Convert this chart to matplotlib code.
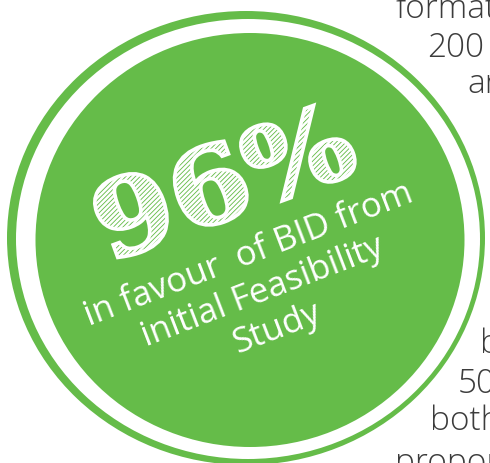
import matplotlib
matplotlib.use("Agg")
import matplotlib.pyplot as plt
from matplotlib.patches import Ellipse, PathPatch
from matplotlib.textpath import TextPath
from matplotlib.font_manager import FontProperties
from matplotlib.transforms import Affine2D

# content
big_value = "96%"
caption = "in favour  of BID from\ninitial Feasibility\nStudy"
side_words = ["format", "200", "ar", "b", "50", "both", "propor"]
side_x = [395, 427, 467, 480, 458, 430, 395]
side_y = [18, 57, 93, 353, 393, 430, 472]

green = "#65bc49"
grey = "#3c3c3c"

plt.rcParams['hatch.linewidth'] = 1.8

fig = plt.figure(figsize=(4.9, 4.63), dpi=100)
ax = fig.add_axes([0, 0, 1, 1])
ax.set_xlim(0, 490)
ax.set_ylim(463, 0)
ax.axis("off")

# badge: outer ring, white gap, inner disc
ax.add_patch(Ellipse((246, 238), 478, 454, angle=0, facecolor=green, edgecolor="none"))
ax.add_patch(Ellipse((248, 239), 464, 440, angle=0, facecolor="white", edgecolor="none"))
ax.add_patch(Ellipse((250, 240), 429, 414, angle=0, facecolor=green, edgecolor="none"))

# sketchy "96%"
fp = FontProperties(family="DejaVu Serif", weight="bold")
tp = TextPath((0, 0), big_value, size=110, prop=fp)
bb = tp.get_extents()
tr = (Affine2D().translate(-(bb.x0 + bb.x1) / 2, -(bb.y0 + bb.y1) / 2)
      .scale(1.05, -0.95).rotate_deg(-20).translate(224, 180))
path = tr.transform_path(tp)
ax.add_patch(PathPatch(path, facecolor="none", edgecolor="white",
                       hatch="///////", lw=2.6))

ax.text(263, 292, caption, rotation=21, rotation_mode="anchor",
        ha="center", va="center", multialignment="center",
        color="white", fontsize=25, family="Open Sans", linespacing=1.2)

for w, x, y in zip(side_words, side_x, side_y):
    ax.text(x, y, w, ha="left", va="baseline", color=grey,
            fontsize=24, family="Open Sans", fontweight="light")

fig.savefig("out.png", dpi=100)
